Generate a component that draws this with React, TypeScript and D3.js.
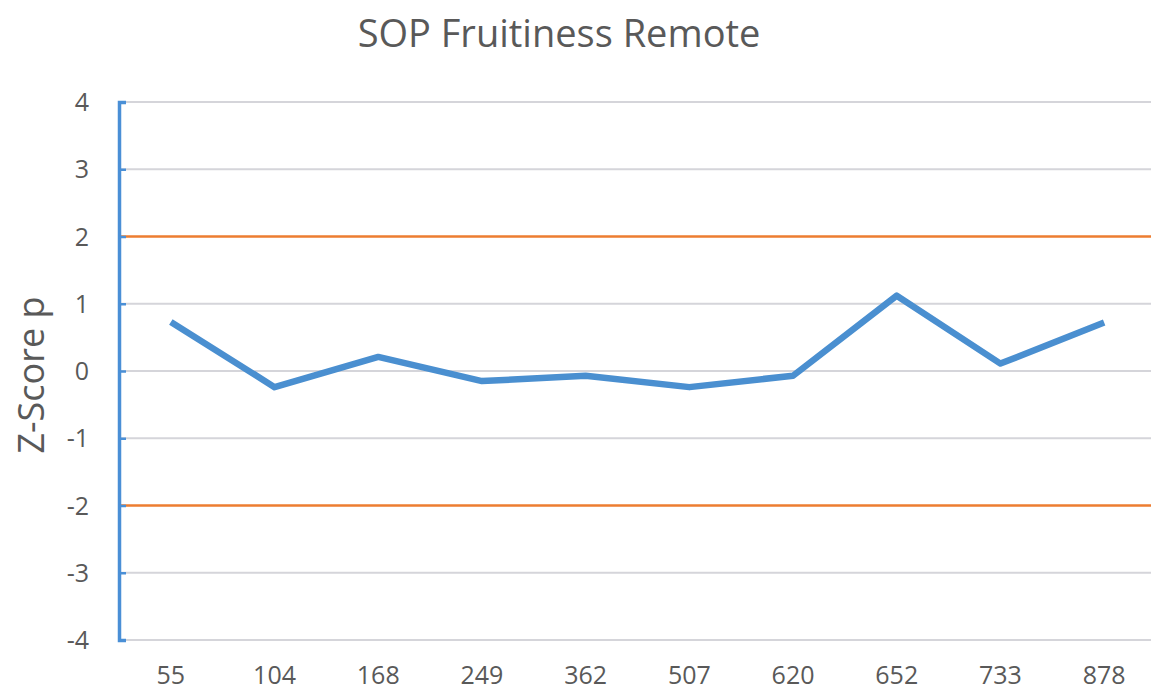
import React, { useEffect, useRef } from "react";
import * as d3 from "d3";

const categories = ["55", "104", "168", "249", "362", "507", "620", "652", "733", "878"];
const zScores = [0.73, -0.24, 0.21, -0.15, -0.07, -0.24, -0.07, 1.12, 0.11, 0.72];
const limits = [2, -2];
const yTicks = [-4, -3, -2, -1, 0, 1, 2, 3, 4];

export default function App() {
  const ref = useRef<SVGSVGElement>(null);

  useEffect(() => {
    const svg = d3.select(ref.current);
    svg.selectAll("*").remove();
    const width = 1151, height = 693;
    const margin = { top: 102, right: -5, bottom: 53, left: 119 };
    const font = "'Open Sans', sans-serif";
    const textColor = "#595959";

    const x = d3.scaleBand().domain(categories).range([margin.left, width - margin.right]);
    const y = d3.scaleLinear().domain([-4, 4]).range([height - margin.bottom, margin.top]);

    // title
    svg.append("text")
      .attr("x", 559).attr("y", 47)
      .attr("text-anchor", "middle")
      .style("font-family", font).style("font-size", "38px")
      .style("fill", textColor)
      .text("SOP Fruitiness Remote");

    // y label
    svg.append("text")
      .attr("transform", `translate(44,${y(0) + 4}) rotate(-90)`)
      .attr("text-anchor", "middle")
      .style("font-family", font).style("font-size", "36px")
      .style("fill", textColor)
      .text("Z-Score p");

    // gridlines
    svg.append("g").selectAll("line")
      .data(yTicks.filter(t => !limits.includes(t)))
      .enter().append("line")
      .attr("x1", margin.left).attr("x2", width)
      .attr("y1", d => y(d)).attr("y2", d => y(d))
      .attr("stroke", "#d5d5da").attr("stroke-width", 2);

    // limit lines at +/-2
    svg.append("g").selectAll("line")
      .data(limits)
      .enter().append("line")
      .attr("x1", margin.left).attr("x2", width)
      .attr("y1", d => y(d)).attr("y2", d => y(d))
      .attr("stroke", "#ed7d31").attr("stroke-width", 2.5);

    // y axis
    const yAxis = svg.append("g")
      .attr("transform", `translate(${margin.left},0)`)
      .call(d3.axisRight(y).tickValues(yTicks).tickSize(7).tickFormat(() => ""));
    yAxis.select(".domain").attr("stroke", "#4a8fd6").attr("stroke-width", 3.5);
    yAxis.selectAll(".tick line").attr("stroke", "#4a8fd6").attr("stroke-width", 2.5);

    // y tick labels
    svg.append("g").selectAll("text")
      .data(yTicks)
      .enter().append("text")
      .attr("x", 89).attr("y", d => y(d) + 9)
      .attr("text-anchor", "end")
      .style("font-family", font).style("font-size", "25px")
      .style("fill", textColor)
      .text(d => String(d));

    // x labels
    svg.append("g").selectAll("text")
      .data(categories)
      .enter().append("text")
      .attr("x", d => (x(d) as number) + x.bandwidth() / 2)
      .attr("y", 684)
      .attr("text-anchor", "middle")
      .style("font-family", font).style("font-size", "25px")
      .style("fill", textColor)
      .text(d => d);

    // series
    const line = d3.line<number>()
      .x((_, i) => (x(categories[i]) as number) + x.bandwidth() / 2)
      .y(d => y(d));
    svg.append("path")
      .datum(zScores)
      .attr("d", line)
      .attr("fill", "none")
      .attr("stroke", "#4a8fd0")
      .attr("stroke-width", 6.5)
      .attr("stroke-linejoin", "round");
  }, []);

  return (
    <svg ref={ref} width={1151} height={693}
      style={{ position: "absolute", left: 0, top: 0, background: "#fff" }} />
  );
}
